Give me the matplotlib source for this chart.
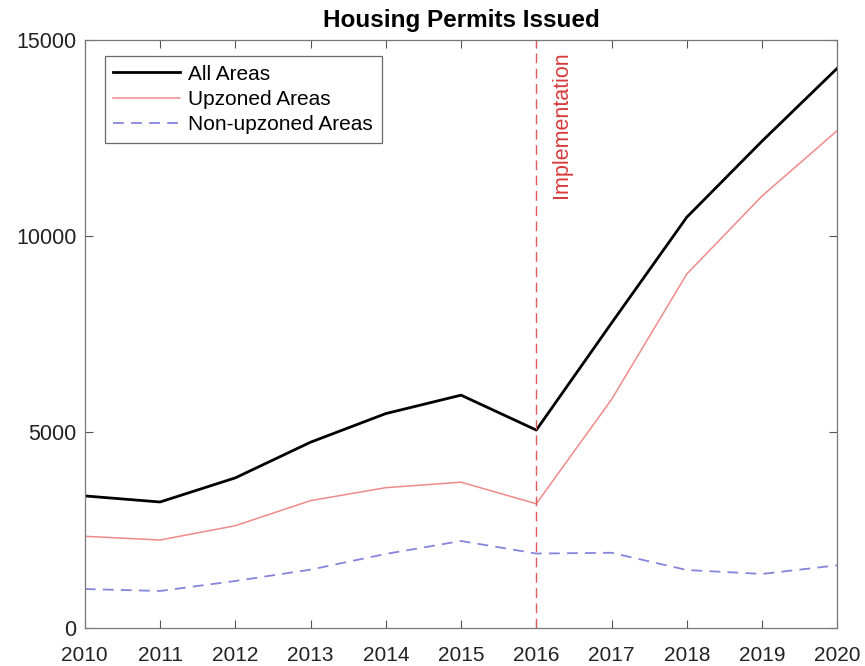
import matplotlib
matplotlib.use("Agg")
import matplotlib.pyplot as plt

plt.rcParams['font.family'] = ['Liberation Sans', 'DejaVu Sans']

years = [2010, 2011, 2012, 2013, 2014, 2015, 2016, 2017, 2018, 2019, 2020]
all_areas = [3370, 3215, 3830, 4740, 5470, 5940, 5050, 7780, 10480, 12420, 14280]
upzoned = [2340, 2245, 2610, 3250, 3580, 3720, 3170, 5830, 9030, 11020, 12690]
non_upzoned = [995, 945, 1200, 1490, 1890, 2220, 1900, 1920, 1480, 1380, 1600]
policy_year = 2016

fig = plt.figure(figsize=(8.65, 6.66), dpi=100)
ax = fig.add_axes([0.098, 0.057, 0.870, 0.883])

ax.plot(years, all_areas, color='black', lw=2, label='All Areas')
ax.plot(years, upzoned, color='#f08a8a', lw=1.1, label='Upzoned Areas')
ax.plot(years, non_upzoned, color='#8585dd', lw=1.3, ls=(0, (6, 4)),
        label='Non-upzoned Areas')

# policy start marker
ax.axvline(policy_year, color='#e05a5a', lw=1.0, ls=(0, (7, 4)))
ax.text(policy_year + 0.2, 14700, 'Implementation', rotation=90,
        color='#d83a3a', fontsize=15.5, ha='left', va='top')

ax.set_xlim(2010, 2020)
ax.set_ylim(0, 15000)
ax.set_xticks(years)
ax.set_yticks([0, 5000, 10000, 15000])
ax.tick_params(direction='in', top=True, right=True, length=6, width=0.8,
               color='#555555', labelcolor='#222222')
ax.tick_params(axis='x', pad=13, labelsize=15)
ax.tick_params(axis='y', pad=6, labelsize=15.5)
for s in ax.spines.values():
    s.set_color('#777777')
    s.set_linewidth(0.9)

ax.set_title('Housing Permits Issued', fontsize=17.5, fontweight='bold', pad=9)

leg = ax.legend(loc='upper left', bbox_to_anchor=(0.027, 0.972), fontsize=15,
                frameon=True, fancybox=False, handlelength=3.2,
                borderpad=0.4, labelspacing=0.3, handletextpad=0.4,
                borderaxespad=0)
leg.get_frame().set_edgecolor('#444444')
leg.get_frame().set_linewidth(0.9)

fig.savefig('out.png', dpi=100)
